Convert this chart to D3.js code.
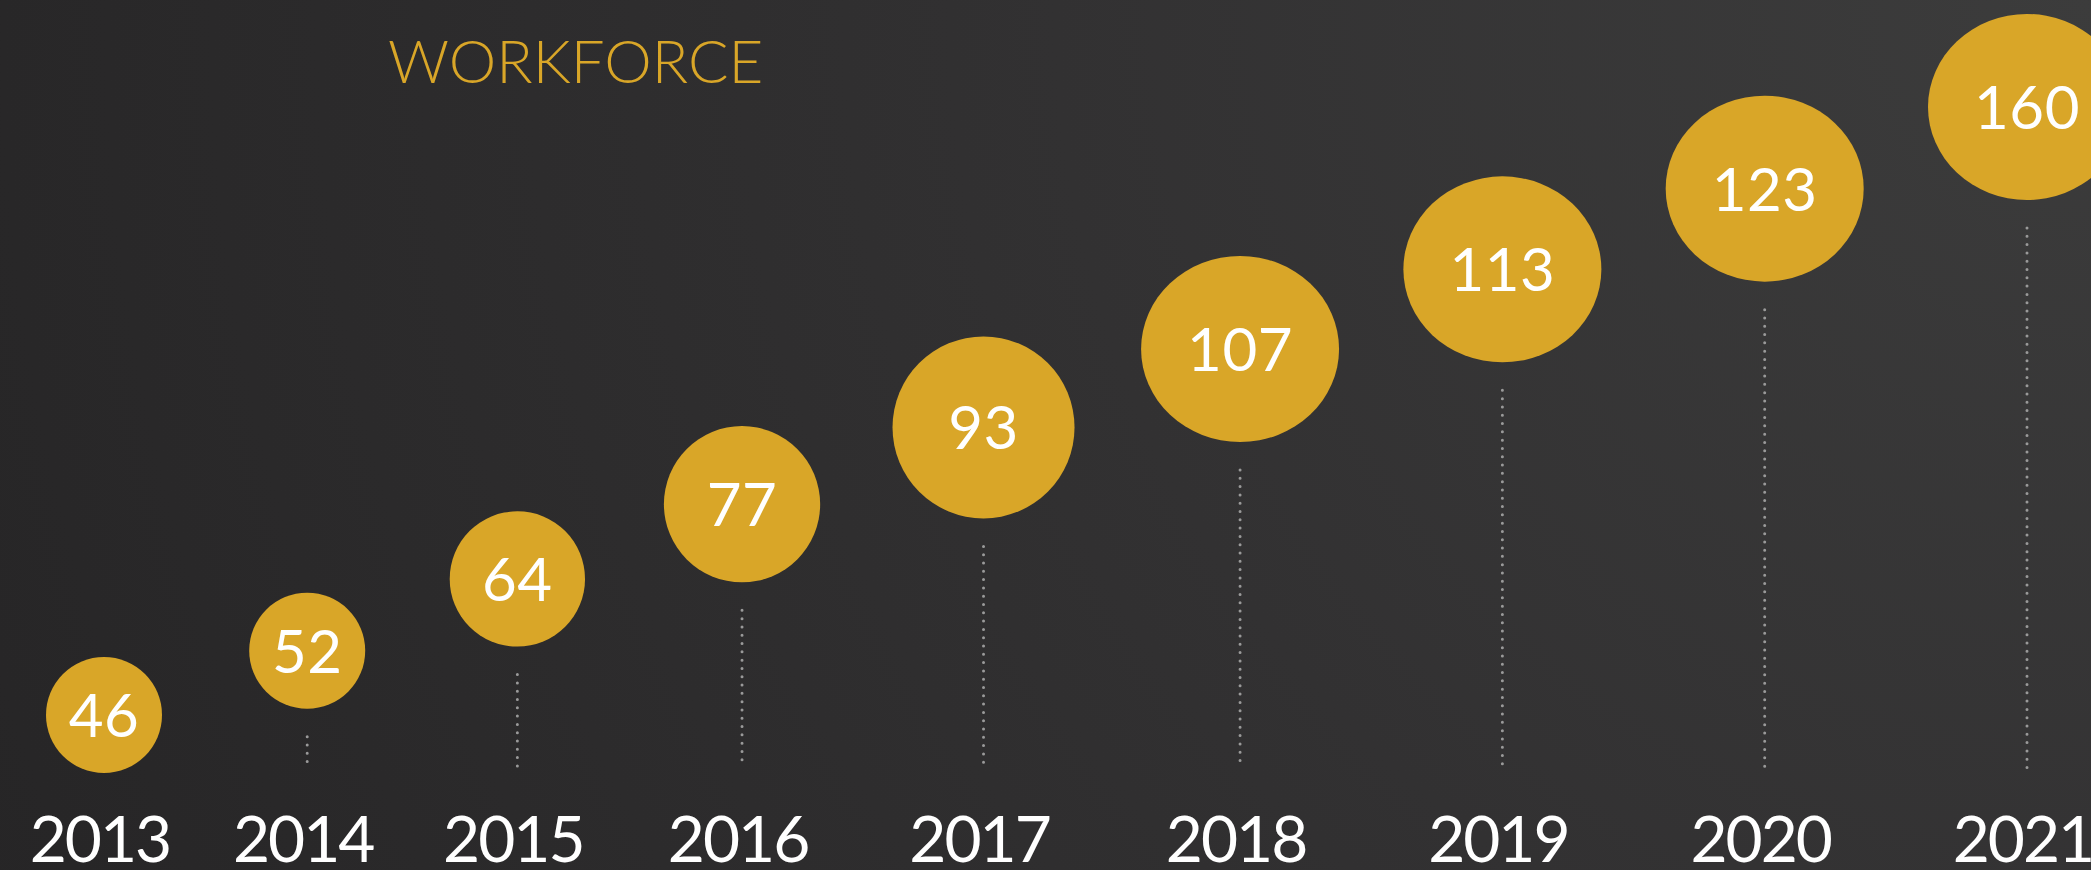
<!DOCTYPE html>
<html>
<head>
<meta charset="utf-8">
<script src="https://cdn.jsdelivr.net/npm/d3@7"></script>
<style>
  body { margin: 0; background: #2a292a; overflow: hidden; }
  .valueLabel { font-family: Lato, "Open Sans", sans-serif; fill: #ffffff; }
  .yearLabel { font-family: Lato, "Open Sans", sans-serif; fill: #ffffff; }
  .title { font-family: Lato, "Open Sans", sans-serif; font-weight: 300; fill: #d9a628; }
</style>
</head>
<body>
<div id="workforceChart"></div>
<script>
// chart data
var years = ["2013", "2014", "2015", "2016", "2017", "2018", "2019", "2020", "2021"];
var workforce = [46, 52, 64, 77, 93, 107, 113, 123, 160];
var chartTitle = "WORKFORCE";

var width = 2091;
var height = 870;

var svg = d3.select("#workforceChart").append("svg")
    .attr("width", width)
    .attr("height", height);

// background gradient, lighter at top right
var defs = svg.append("defs");
var grad = defs.append("radialGradient")
    .attr("id", "bg")
    .attr("gradientUnits", "userSpaceOnUse")
    .attr("cx", 2091).attr("cy", 0).attr("r", 2300);
grad.append("stop").attr("offset", "0%").attr("stop-color", "#3c3c3c");
grad.append("stop").attr("offset", "45%").attr("stop-color", "#323132");
grad.append("stop").attr("offset", "100%").attr("stop-color", "#262526");

svg.append("rect")
    .attr("width", width)
    .attr("height", height)
    .attr("fill", "url(#bg)");

// bubble size grows with the value, the big ones get flattened a bit
var r = d3.scaleLinear().domain([52, 93, 107]).range([58, 91, 99]).clamp(true);
var maxRy = 93;

var data = years.map(function(d, i) {
    return { year: d, value: workforce[i], i: i };
});

// bubbles are packed left to right, spacing depends on neighbour sizes
var offset = 0;
data.forEach(function(d, i) {
    if (i > 0) offset += 119.6 + 0.721 * (r(data[i - 1].value) + r(d.value));
    d.offset = offset;
});

var x = d3.scaleLinear().domain([0, offset]).range([104, 2027]);
var y = d3.scalePow().exponent(1.08).domain([0, years.length - 1]).range([715, 107]);

var lineBottom = 768;

// dotted stems under each bubble
svg.selectAll(".stem")
    .data(data.filter(function(d) { return y(d.i) + Math.min(r(d.value), maxRy) + 28 < lineBottom; }))
  .enter().append("line")
    .attr("class", "stem")
    .attr("x1", function(d) { return x(d.offset); })
    .attr("x2", function(d) { return x(d.offset); })
    .attr("y1", function(d) { return y(d.i) + Math.min(r(d.value), maxRy) + 28; })
    .attr("y2", lineBottom)
    .attr("stroke", "#9a9a9a")
    .attr("stroke-width", 3)
    .attr("stroke-linecap", "round")
    .attr("stroke-dasharray", "0 8.3");

// bubbles
svg.selectAll(".bubble")
    .data(data)
  .enter().append("ellipse")
    .attr("class", "bubble")
    .attr("cx", function(d) { return x(d.offset); })
    .attr("cy", function(d) { return y(d.i); })
    .attr("rx", function(d) { return r(d.value); })
    .attr("ry", function(d) { return Math.min(r(d.value), maxRy); })
    .attr("fill", "#d9a628");

// values inside bubbles
svg.selectAll(".valueLabel")
    .data(data)
  .enter().append("text")
    .attr("class", "valueLabel")
    .attr("x", function(d) { return x(d.offset); })
    .attr("y", function(d) { return y(d.i) + 22; })
    .attr("text-anchor", "middle")
    .style("font-size", "60px")
    .style("letter-spacing", "0.5px")
    .text(function(d) { return d.value; });

// year labels along the bottom
svg.selectAll(".yearLabel")
    .data(data)
  .enter().append("text")
    .attr("class", "yearLabel")
    .attr("x", function(d) { return x(d.offset) - 4; })
    .attr("y", 862)
    .attr("text-anchor", "middle")
    .style("font-size", "64px")
    .style("letter-spacing", "-2px")
    .text(function(d) { return d.year; });

svg.append("text")
    .attr("class", "title")
    .attr("x", 388)
    .attr("y", 83)
    .style("font-size", "60px")
    .text(chartTitle);
</script>
</body>
</html>
